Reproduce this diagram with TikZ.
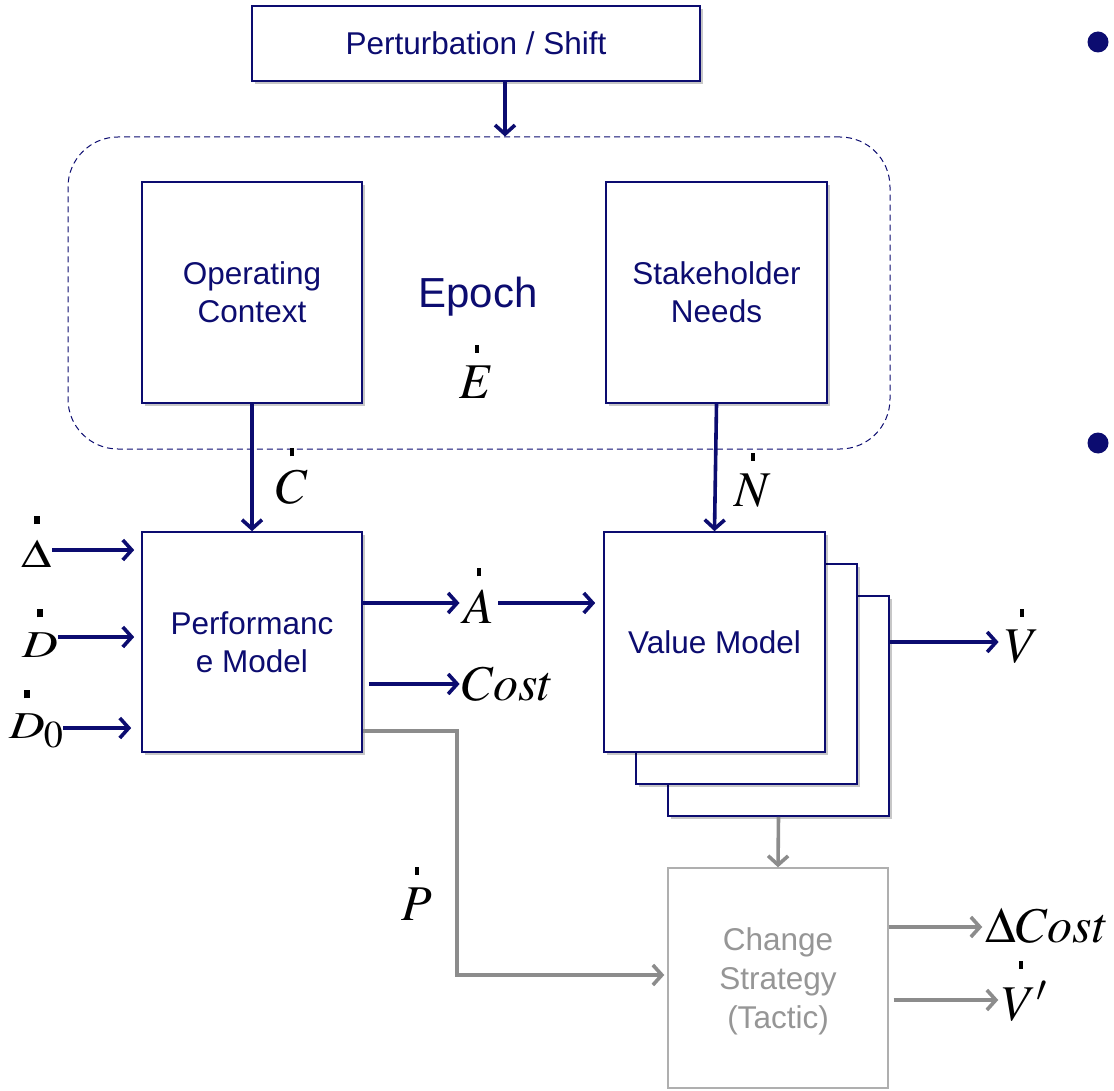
\documentclass[tikz,border=0pt]{standalone}
\usepackage[no-math]{fontspec}
\usepackage{mathptmx}
\newfontfamily\boxfont{Liberation Sans}
\usetikzlibrary{arrows.meta,shadows}
\definecolor{navy}{RGB}{12,12,112}
\definecolor{arrgray}{RGB}{140,140,140}
\definecolor{boxgray}{RGB}{175,175,175}
\definecolor{txtgray}{RGB}{150,150,150}
% a letter with a small square "time derivative" mark high above it
\newlength\dotgap \setlength\dotgap{13pt}
\newcommand\bdot[2][0pt]{\setbox0=\hbox{$#2$}%
  \rlap{\hbox to \wd0{\hss\kern#1\rule[\dimexpr\ht0+\dotgap\relax]{4.5pt}{8pt}\kern-#1\hss}}\box0}
\tikzset{
  softshadow/.style={drop shadow={shadow xshift=3pt,shadow yshift=-3pt,opacity=0.22,fill=black}},
  block/.style={draw=navy,line width=1.6pt,fill=white,softshadow,text=navy,align=center,
    font=\boxfont\fontsize{31.5}{38}\selectfont,inner sep=0pt},
  graybox/.style={draw=boxgray,line width=1.4pt,fill=white,inner sep=0pt},
  graytext/.style={text=txtgray,align=center,font=\boxfont\fontsize{31.5}{39}\selectfont,inner sep=0pt},
  mathlbl/.style={font=\fontsize{50}{54}\selectfont,inner sep=0pt,anchor=base},
  inlbl/.style={font=\fontsize{38}{42}\selectfont\setlength\dotgap{15pt},inner sep=0pt,anchor=base},
  navyarr/.style={draw=navy,line width=3.6pt,-{Straight Barb[length=9pt,width=20pt,line width=3.6pt]}},
  grayarr/.style={draw=arrgray,line width=3.6pt,-{Straight Barb[length=9pt,width=20pt,line width=3.6pt]}},
}
\begin{document}
\begin{tikzpicture}[x=1pt,y=-1pt]
\useasboundingbox (0,0) rectangle (1114,1091);

% perturbation source
\node[block,minimum width=448pt,minimum height=75pt] (pert) at (476,43.5) {\raisebox{-3pt}{Perturbation / Shift}};

% epoch region
\node[draw=navy,dashed,dash pattern=on 6pt off 4pt,line width=1pt,rounded corners=50pt,
  minimum width=822pt,minimum height=312pt] (epoch) at (479,293) {};

\node[block,minimum width=220pt,minimum height=221pt] (oc) at (252,292.5) {Operating\\Context};
\node[block,minimum width=221pt,minimum height=221pt] (sn) at (716.5,292.5) {Stakeholder\\Needs};
\node[text=navy,font=\boxfont\fontsize{42}{46}\selectfont,inner sep=0pt,anchor=base] (epochlbl) at (478,308) {Epoch};
\node[mathlbl] (edot) at (477,398) {\bdot{E}};

% models
\node[block,minimum width=220pt,minimum height=220pt] (perf) at (252,642) {Performanc\\e Model};

\node[block,minimum width=221pt,minimum height=220pt] (vm3) at (778.5,706) {};
\node[block,minimum width=221pt,minimum height=220pt] (vm2) at (746.5,674) {};
\node[block,minimum width=221pt,minimum height=220pt] (vm1) at (714.5,642) {Value Model};

\node[graybox,minimum width=220pt,minimum height=220pt] (cs) at (778,978) {};
\node[graytext] (cstext) at (778,981) {Change\\Strategy\\(Tactic)};

% labels
\node[mathlbl] (cdot) at (292,503) {\bdot{C}};
\node[mathlbl] (ndot) at (753,506) {\bdot{N}};
\node[inlbl] (ddelta) at (37,567) {\scalebox{1.3}[1.05]{\bdot{\Delta}}};
\node[inlbl] (dd) at (40,657) {\scalebox{1.3}[1]{\bdot{D}}};
\node[inlbl] (dd0) at (36,738) {\scalebox{1.3}[1]{\bdot{D}}\kern-1pt\raisebox{-9pt}{$\mathrm{0}$}};
\node[mathlbl] (adot) at (479,623) {\bdot{A}};
\node[mathlbl] (cost) at (508,700) {$Cost$};
\node[mathlbl] (vdot) at (1022,662) {\bdot{V}};
\node[mathlbl] (pdot) at (417,920) {\bdot{P}};
\node[mathlbl] (dcost) at (1047,942) {$\Delta Cost$};
\node[mathlbl] (vpdot) at (1025,1020) {\bdot[-4pt]{V'}};

% bullets
\fill[navy] (1098,42) circle (10.5pt);
\fill[navy] (1098,443) circle (10.5pt);

% connectors
\draw[navyarr] (pert.south -| 505,0) -- (epoch.north -| 505,0);
\draw[navyarr] (oc.south) -- (perf.north);
\draw[navyarr] (sn.south) -- (vm1.north);
\draw[navyarr,shorten >=7pt] (ddelta.east |- 0,550) -- (perf.west |- 0,550);
\draw[navyarr,shorten >=7pt] (dd.east |- 0,637) -- (perf.west |- 0,637);
\draw[navyarr,shorten >=10pt] (dd0.east |- 0,728) -- (perf.west |- 0,728);
\draw[navyarr,shorten >=4pt] (perf.east |- 0,603) -- (adot.west |- 0,603);
\draw[navyarr,shorten >=8pt,shorten <=4pt] (adot.east |- 0,603) -- (vm1.west |- 0,603);
\draw[navyarr,shorten <=6pt,shorten >=2pt] (perf.east |- 0,684) -- (cost.west |- 0,684);
\draw[navyarr,shorten >=6pt] (vm3.east |- 0,642) -- (vdot.west |- 0,642);
\draw[grayarr] (vm3.south) -- (cs.north);
\draw[grayarr,shorten >=3pt] (perf.east |- 0,731) -- (457,731) -- (457,975) -- (cs.west |- 0,975);
\draw[grayarr,shorten >=3pt] (cs.east |- 0,927) -- (dcost.west |- 0,927);
\draw[grayarr,shorten <=5pt,shorten >=4pt] (cs.east |- 0,1000) -- (vpdot.west |- 0,1000);
\end{tikzpicture}
\end{document}
